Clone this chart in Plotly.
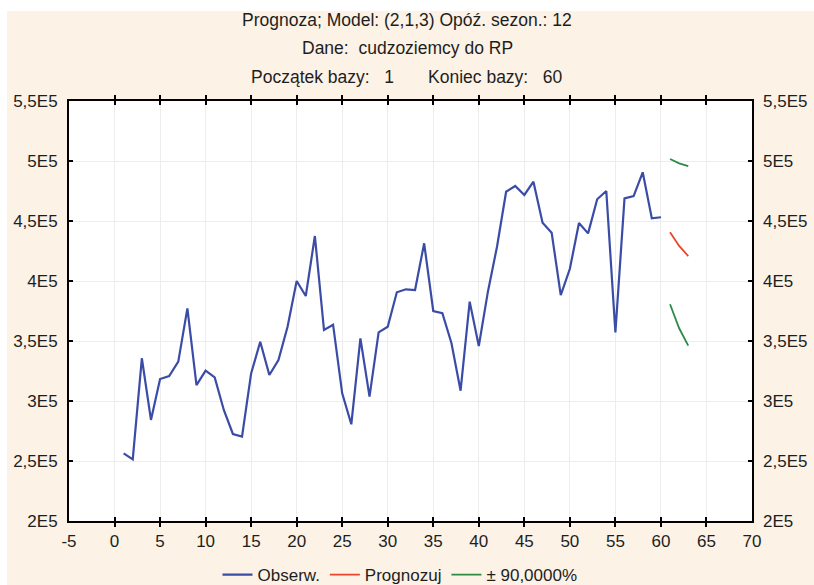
import plotly.graph_objects as go

# ---- data ----
obs_x = list(range(1, 61))
obs_y = [256400, 251400, 335600, 284200, 318300, 320800, 332800, 377200, 313300, 325300,
         319700, 292500, 272500, 270300, 323000, 349400, 321700, 334200, 361900, 400000,
         387500, 437500, 359200, 363600, 306400, 280600, 352200, 303600, 357200, 361900,
         390600, 393100, 392500, 431400, 375000, 373100, 348100, 308600, 382800, 345800,
         391100, 428600, 474400, 479200, 471700, 482800, 448600, 440300, 388300, 410200,
         448300, 439700, 468100, 475000, 357200, 468900, 470800, 490600, 452200, 453100]
fc_x = [61, 62, 63]
fc_y = [440600, 429200, 420800]
upper_y = [501700, 498000, 495800]
lower_y = [380600, 360600, 346100]

x_ticks = list(range(-5, 71, 5))
y_tickvals = [200000, 250000, 300000, 350000, 400000, 450000, 500000, 550000]
y_ticktext = ["2E5", "2,5E5", "3E5", "3,5E5", "4E5", "4,5E5", "5E5", "5,5E5"]

title_lines = [
    "Prognoza; Model: (2,1,3) Opóź. sezon.: 12",
    "Dane:\u00a0 cudzoziemcy do RP",
    "Początek bazy:\u00a0\u00a0 1\u00a0\u00a0\u00a0\u00a0\u00a0\u00a0 Koniec bazy:\u00a0\u00a0 60",
]
legend_names = ["Obserw.", "Prognozuj", "± 90,0000%"]

BLUE = "#3A4CA6"
RED = "#E8462C"
GREEN = "#2F8A44"
BEIGE = "#FCF2E6"
FONT = "Liberation Sans, Arial, sans-serif"
TXT = "#1E1E1E"

fig = go.Figure()
fig.add_trace(go.Scatter(x=obs_x, y=obs_y, mode="lines", name=legend_names[0],
                         line=dict(color=BLUE, width=2.2)))
fig.add_trace(go.Scatter(x=fc_x, y=fc_y, mode="lines", name=legend_names[1],
                         line=dict(color=RED, width=1.8)))
fig.add_trace(go.Scatter(x=fc_x + [None] + fc_x, y=upper_y + [None] + lower_y,
                         mode="lines", name=legend_names[2], connectgaps=False,
                         line=dict(color=GREEN, width=1.8)))
# dummy trace for right axis labels
fig.add_trace(go.Scatter(x=[None], y=[None], yaxis="y2", showlegend=False,
                         hoverinfo="skip"))

L, R, T, B = 69, 62, 101, 64
W, H = 814, 585
pw = W - L - R
ph = H - T - B

axis_common = dict(showline=True, linecolor="black", linewidth=2,
                   ticks="inside", ticklen=4, tickwidth=2, tickcolor="black",
                   gridcolor="#EDEDED", gridwidth=1, zeroline=False, automargin=False,
                   tickfont=dict(family=FONT, size=17, color=TXT))

fig.update_layout(
    width=W, height=H,
    margin=dict(l=L, r=R, t=T, b=B, autoexpand=False),
    paper_bgcolor=BEIGE,
    plot_bgcolor="white",
    font=dict(family=FONT, size=17, color=TXT),
    showlegend=True,
    legend=dict(orientation="h", x=(400 - L) / pw, xanchor="center",
                yref="container", y=(H - 575) / H, yanchor="middle",
                bgcolor="rgba(0,0,0,0)", font=dict(family=FONT, size=17, color=TXT),
                itemwidth=30, tracegroupgap=0),
    xaxis=dict(range=[-5, 70], tickvals=x_ticks, ticktext=[str(v) for v in x_ticks],
               mirror="allticks", ticklabelstandoff=4, **axis_common),
    yaxis=dict(range=[200000, 550000], tickvals=y_tickvals, ticktext=y_ticktext,
               mirror="allticks", ticklabelstandoff=6, **axis_common),
    yaxis2=dict(range=[200000, 550000], tickvals=y_tickvals, ticktext=y_ticktext,
                overlaying="y", side="right", showgrid=False, showline=False,
                ticks="", zeroline=False, ticklabelstandoff=10, automargin=False,
                tickfont=dict(family=FONT, size=17, color=TXT)),
)

# white strips at top and left of the picture
fig.add_shape(type="rect", xref="paper", yref="paper", layer="below",
              x0=-L / pw - 0.01, x1=(7 - L) / pw, y0=-B / ph - 0.01, y1=(H - B) / ph + 0.01,
              fillcolor="white", line_width=0)
fig.add_shape(type="rect", xref="paper", yref="paper", layer="below",
              x0=-L / pw - 0.01, x1=1 + R / pw + 0.01, y0=(H - B - 11) / ph, y1=(H - B) / ph + 0.01,
              fillcolor="white", line_width=0)

title_y_px = [20, 48, 77]
for txt, ypx in zip(title_lines, title_y_px):
    fig.add_annotation(text=txt, xref="paper", yref="paper",
                       x=(407 - L) / pw, y=(H - B - ypx) / ph,
                       xanchor="center", yanchor="middle", showarrow=False,
                       font=dict(family=FONT, size=17.5, color=TXT))

fig.write_html("out.html")
